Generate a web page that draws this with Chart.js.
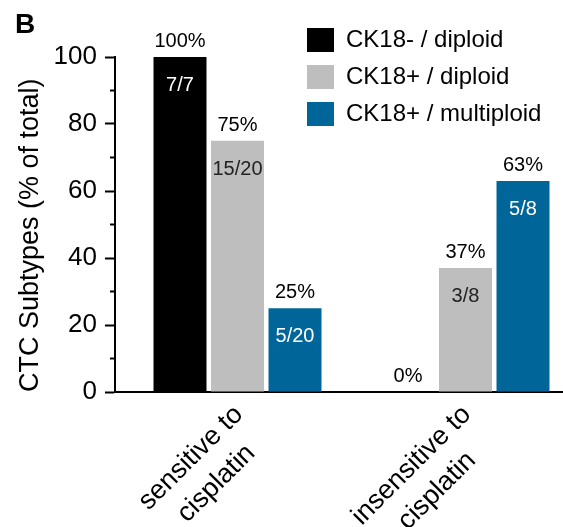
<!DOCTYPE html>
<html lang="en">
<head>
<meta charset="utf-8">
<title>CTC Subtypes</title>
<script src="https://cdn.jsdelivr.net/npm/chart.js@4.4.1/dist/chart.umd.min.js"></script>
<style>
  html, body { margin: 0; padding: 0; background: #fff; overflow: hidden; }
  #chartBox { position: relative; width: 563px; height: 527px; }
</style>
</head>
<body>
<div id="chartBox"><canvas id="ctcChart"></canvas></div>
<script>
// Categorías del eje X (dos líneas cada una)
const categories = [
  ["sensitive to", "cisplatin"],
  ["insensitive to", "cisplatin"],
];

// Nombres de las series (leyenda)
const seriesNames = ["CK18- / diploid", "CK18+ / diploid", "CK18+ / multiploid"];

// Valores (% del total) por serie
const ck18NegDiploid = [100, 0];
const ck18PosDiploid = [75, 37];
const ck18PosMultiploid = [25, 63];

// Porcentajes escritos sobre las barras
const ck18NegDiploidPct = ["100%", "0%"];
const ck18PosDiploidPct = ["75%", "37%"];
const ck18PosMultiploidPct = ["25%", "63%"];

// Fracciones escritas dentro de las barras
const ck18NegDiploidFrac = ["7/7", ""];
const ck18PosDiploidFrac = ["15/20", "3/8"];
const ck18PosMultiploidFrac = ["5/20", "5/8"];

// Marcas del eje Y
const yTicks = [0, 20, 40, 60, 80, 100];
const yMinorTicks = [10, 30, 50, 70, 90];

const FONT = "'Liberation Sans', Arial, sans-serif";
const valueSets = [ck18NegDiploid, ck18PosDiploid, ck18PosMultiploid];
const pctLabels = [ck18NegDiploidPct, ck18PosDiploidPct, ck18PosMultiploidPct];
const fracLabels = [ck18NegDiploidFrac, ck18PosDiploidFrac, ck18PosMultiploidFrac];
const barColors = ["#000000", "#bebebe", "#006699"];
const fracColors = ["#ffffff", "#222222", "#ffffff"];

Chart.defaults.font.family = FONT;
Chart.defaults.color = "#000";

// Texto de valores encima y dentro de cada barra
const barLabelsPlugin = {
  id: "barLabels",
  afterDatasetsDraw(chart) {
    const ctx = chart.ctx;
    ctx.save();
    ctx.textAlign = "center";
    ctx.textBaseline = "alphabetic";
    ctx.font = "20px " + FONT;
    chart.data.datasets.forEach((ds, di) => {
      const meta = chart.getDatasetMeta(di);
      meta.data.forEach((bar, i) => {
        ctx.fillStyle = "#000";
        ctx.fillText(pctLabels[di][i], bar.x, bar.y - 10);
        if (fracLabels[di][i]) {
          ctx.fillStyle = fracColors[di];
          ctx.fillText(fracLabels[di][i], bar.x, bar.y + 34);
        }
      });
    });
    ctx.restore();
  },
};

// Etiquetas del eje X giradas 45 grados, líneas centradas
const xLabelsPlugin = {
  id: "xLabels",
  afterDraw(chart) {
    const ctx = chart.ctx;
    const xScale = chart.scales.x;
    const lineGap = 36;
    ctx.save();
    ctx.font = "27px " + FONT;
    ctx.fillStyle = "#000";
    ctx.textAlign = "center";
    ctx.textBaseline = "middle";
    categories.forEach((lines, i) => {
      const px = xScale.getPixelForValue(i);
      const longest = Math.max(...lines.map((l) => ctx.measureText(l).width));
      ctx.save();
      ctx.translate(px + 14, chart.chartArea.bottom + 31);
      ctx.rotate(-Math.PI / 4);
      lines.forEach((line, li) => {
        const y = (li - (lines.length - 1) / 2) * lineGap;
        ctx.fillText(line, -longest / 2, y);
      });
      ctx.restore();
    });
    ctx.restore();
  },
};

// Mover la leyenda a la esquina superior derecha
const legendPlacePlugin = {
  id: "legendPlace",
  afterLayout(chart) {
    const lg = chart.legend;
    if (!lg) return;
    const w = lg.width;
    const h = lg.height;
    lg.left = 294;
    lg.top = 15;
    lg.right = lg.left + w;
    lg.bottom = lg.top + h;
  },
};

const ctx = document.getElementById("ctcChart").getContext("2d");
new Chart(ctx, {
  type: "bar",
  data: {
    datasets: valueSets.map((values, s) => ({
      label: seriesNames[s],
      data: values.map((v, i) => ({ x: i, y: v })),
      backgroundColor: barColors[s],
      borderWidth: 0,
      categoryPercentage: 0.7566,
      barPercentage: 0.9217,
    })),
  },
  options: {
    responsive: true,
    maintainAspectRatio: false,
    animation: false,
    events: [],
    layout: { padding: { left: 15, right: 0, top: 0, bottom: 0 } },
    scales: {
      x: {
        type: "linear",
        min: -0.5373,
        max: 1.4276,
        offset: false,
        grid: { display: false },
        border: { display: true, color: "#000", width: 2 },
        ticks: { display: false },
        afterBuildTicks: (s) => {
          s.ticks = categories.map((c, i) => ({ value: i }));
        },
        afterFit: (s) => {
          s.height = 135;
        },
      },
      y: {
        type: "linear",
        position: "left",
        weight: 1,
        min: 0,
        max: 100,
        grid: {
          drawOnChartArea: false,
          tickLength: 10,
          tickWidth: 2,
          tickColor: "#000",
        },
        border: { display: true, color: "#000", width: 2 },
        ticks: {
          padding: 8,
          color: "#000",
          font: { size: 26 },
        },
        afterBuildTicks: (s) => {
          s.ticks = yTicks.map((v) => ({ value: v }));
        },
        title: {
          display: true,
          text: "CTC Subtypes (% of total)",
          align: "start",
          color: "#000",
          font: { size: 27, lineHeight: 1 },
          padding: { top: 2, bottom: 0 },
        },
        afterFit: (s) => {
          s.width = 100;
        },
      },
      yMinor: {
        type: "linear",
        position: "left",
        weight: 0,
        min: 0,
        max: 100,
        grid: {
          drawOnChartArea: false,
          tickLength: 5,
          tickWidth: 2,
          tickColor: "#000",
        },
        border: { display: false },
        ticks: { display: false },
        afterBuildTicks: (s) => {
          s.ticks = yMinorTicks.map((v) => ({ value: v }));
        },
        afterFit: (s) => {
          s.width = 0;
        },
      },
    },
    plugins: {
      title: {
        display: true,
        text: "B",
        align: "start",
        color: "#000",
        font: { size: 28, weight: "bold" },
        padding: { top: 8.7, bottom: 14.7 },
      },
      legend: {
        position: "chartArea",
        align: "start",
        labels: {
          color: "#000",
          font: { size: 24 },
          boxWidth: 27,
          boxHeight: 24,
          padding: 13,
        },
      },
      tooltip: { enabled: false },
    },
  },
  plugins: [barLabelsPlugin, xLabelsPlugin, legendPlacePlugin],
});
</script>
</body>
</html>
